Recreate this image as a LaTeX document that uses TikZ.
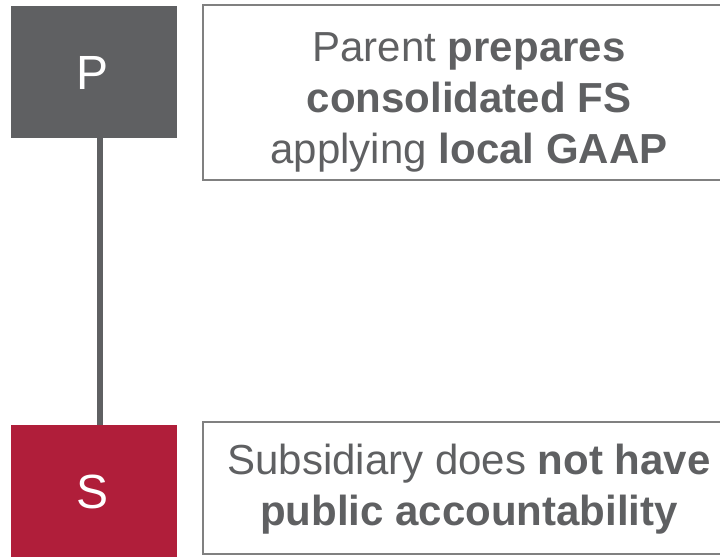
\documentclass[tikz,border=0pt]{standalone}
\usepackage{fontspec}
\setmainfont{Liberation Sans}
\definecolor{boxgray}{HTML}{5F6062}
\definecolor{boxred}{HTML}{B01E3A}
\definecolor{txtgray}{HTML}{5F6062}
\definecolor{framegray}{HTML}{808080}
\begin{document}
\begin{tikzpicture}[x=1pt,y=-1pt,
  entity/.style={minimum width=166pt,minimum height=132pt,inner sep=0pt},
  letter/.style={text=white,inner sep=0pt,font=\fontsize{48}{48}\selectfont},
  note/.style={draw=framegray,line width=1.3pt,inner sep=0pt},
  notetext/.style={inner sep=0pt,text=txtgray,align=center,anchor=base,
    font=\fontsize{42}{51}\selectfont},
  link/.style={draw=boxgray,line width=6pt}]
\useasboundingbox (0,0) rectangle (720,557);
\node[entity,fill=boxgray] (P) at (94,72) {};
\node[entity,fill=boxred] (S) at (94,491) {};
\draw[link] ([xshift=5.5pt]P.south) -- ([xshift=5.5pt]S.north);
\node[letter] (Pl) at (93,73) {P};
\node[letter] (Sl) at (93,492) {S};
\node[note,minimum width=532pt,minimum height=175pt] (pn) at (469,92.5) {};
\node[notetext] (pt) at (469,163)
  {Parent \textbf{prepares}\\ \textbf{consolidated FS}\\ applying \textbf{local GAAP}};
\node[note,minimum width=532pt,minimum height=132pt] (sn) at (469,488) {};
\node[notetext] (st) at (469,525)
  {Subsidiary does \textbf{not have}\\ \textbf{public accountability}};
\end{tikzpicture}
\end{document}
